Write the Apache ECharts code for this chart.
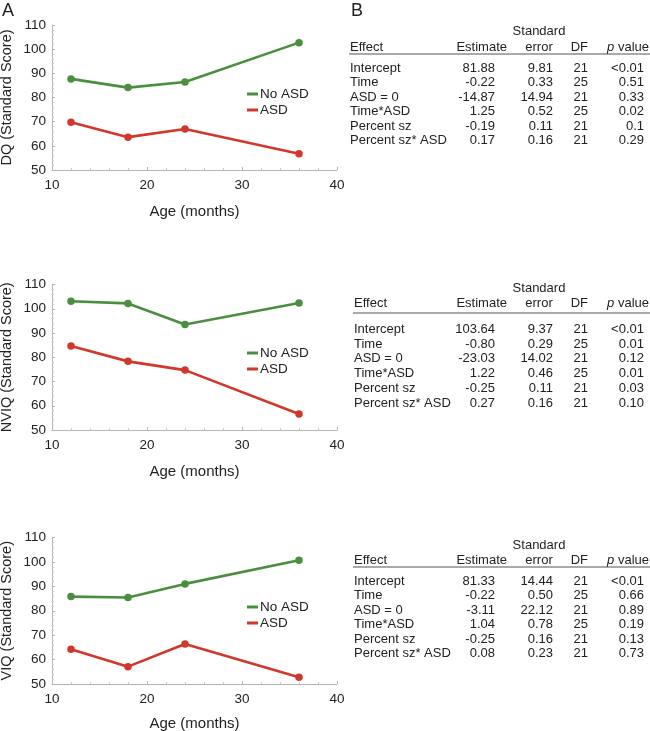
<!DOCTYPE html>
<html>
<head>
<meta charset="utf-8">
<script src="https://cdn.jsdelivr.net/npm/echarts@6/dist/echarts.min.js"></script>
<style>
html,body{margin:0;padding:0;background:#fff;}
#c{width:650px;height:731px;}
</style>
</head>
<body>
<div id="c"></div>
<script>
// ---- Data ----
const ages = [12, 18, 24, 36];
const dqNoASD = [87.7, 84.1, 86.4, 102.7];
const dqASD = [69.8, 63.6, 67.0, 56.7];
const nviqNoASD = [103.1, 102.2, 93.5, 102.4];
const nviqASD = [84.6, 78.3, 74.7, 56.6];
const viqNoASD = [85.8, 85.4, 91.0, 100.7];
const viqASD = [64.2, 57.1, 66.4, 52.8];

const yTitles = ['DQ (Standard Score)', 'NVIQ (Standard Score)', 'VIQ (Standard Score)'];
const xTitle = 'Age (months)';
const seriesNames = ['No ASD', 'ASD'];

const effects = ['Intercept', 'Time', 'ASD = 0', 'Time*ASD', 'Percent sz', 'Percent sz* ASD'];
const dqEstimate = ['81.88', '-0.22', '-14.87', '1.25', '-0.19', '0.17'];
const dqSE = ['9.81', '0.33', '14.94', '0.52', '0.11', '0.16'];
const dqDF = ['21', '25', '21', '25', '21', '21'];
const dqP = ['<0.01', '0.51', '0.33', '0.02', '0.1', '0.29'];
const nviqEstimate = ['103.64', '-0.80', '-23.03', '1.22', '-0.25', '0.27'];
const nviqSE = ['9.37', '0.29', '14.02', '0.46', '0.11', '0.16'];
const nviqDF = ['21', '25', '21', '25', '21', '21'];
const nviqP = ['<0.01', '0.01', '0.12', '0.01', '0.03', '0.10'];
const viqEstimate = ['81.33', '-0.22', '-3.11', '1.04', '-0.25', '0.08'];
const viqSE = ['14.44', '0.50', '22.12', '0.78', '0.16', '0.23'];
const viqDF = ['21', '25', '21', '25', '21', '21'];
const viqP = ['<0.01', '0.66', '0.89', '0.19', '0.13', '0.73'];

// ---- Layout ----
const FONT = "'Liberation Sans', Arial, Helvetica, sans-serif";
const TXT = '#222';
const GREEN = '#4a8f3f';
const RED = '#d2372b';
const AXC = '#b5b5b5';

const panels = [
  { top: 25, height: 145, legendTop: 82, xGap: 34, noASD: dqNoASD, asd: dqASD },
  { top: 284.5, height: 145.5, legendTop: 341, xGap: 34, noASD: nviqNoASD, asd: nviqASD },
  { top: 537.5, height: 146.5, legendTop: 595, xGap: 32, noASD: viqNoASD, asd: viqASD }
];

const tables = [
  { std: 31, hdr: 47, line: 54, rows: 68, step: 14.5, left: 350, est: dqEstimate, se: dqSE, df: dqDF, p: dqP },
  { std: 288, hdr: 303.5, line: 313, rows: 329.5, step: 14.7, left: 354, est: nviqEstimate, se: nviqSE, df: nviqDF, p: nviqP },
  { std: 545, hdr: 560.5, line: 567, rows: 581, step: 14.5, left: 354, est: viqEstimate, se: viqSE, df: viqDF, p: viqP }
];

const grid = [], xAxis = [], yAxis = [], series = [], legend = [];
panels.forEach((p, i) => {
  grid.push({ left: 52, top: p.top, width: 285, height: p.height, containLabel: false, outerBoundsMode: 'none' });
  xAxis.push({
    type: 'value', gridIndex: i, min: 10, max: 40, interval: 10,
    name: xTitle, nameLocation: 'middle', nameGap: p.xGap,
    nameTextStyle: { fontFamily: FONT, fontSize: 15, color: TXT },
    axisLine: { show: true, lineStyle: { color: AXC, width: 1 } },
    axisTick: { show: true, length: 3, inside: true, lineStyle: { color: AXC } },
    minorTick: { show: true, splitNumber: 5, length: 2, lineStyle: { color: '#ccc' } },
    axisLabel: { fontFamily: FONT, fontSize: 13.5, color: TXT, margin: 8 },
    splitLine: { show: false }
  });
  yAxis.push({
    type: 'value', gridIndex: i, min: 50, max: 110, interval: 10,
    name: yTitles[i], nameLocation: 'middle', nameGap: 38,
    nameTextStyle: { fontFamily: FONT, fontSize: 14.5, color: TXT },
    axisLine: { show: true, lineStyle: { color: AXC, width: 1 } },
    axisTick: { show: true, length: 3, inside: true, lineStyle: { color: AXC } },
    minorTick: { show: true, splitNumber: 5, length: 2, lineStyle: { color: '#ccc' } },
    axisLabel: { fontFamily: FONT, fontSize: 13.5, color: TXT, margin: 6 },
    splitLine: { show: false }
  });
  [p.noASD, p.asd].forEach((vals, k) => {
    const col = k === 0 ? GREEN : RED;
    series.push({
      type: 'line', name: seriesNames[k], xAxisIndex: i, yAxisIndex: i,
      data: ages.map((a, j) => [a, vals[j]]),
      symbol: 'circle', symbolSize: 7.5,
      lineStyle: { color: col, width: 2.6 },
      itemStyle: { color: col },
      animation: false
    });
  });
  legend.push({
    data: seriesNames, orient: 'vertical', left: 242, top: p.legendTop,
    icon: 'rect', itemWidth: 11, itemHeight: 3, itemGap: 2,
    textStyle: { fontFamily: FONT, fontSize: 13.5, color: TXT, padding: [0, 0, 0, -3] },
    selectedMode: false
  });
});

// ---- Tables as graphic text ----
const graphic = [];
function txt(x, y, s, align) {
  graphic.push({
    type: 'text', x: x, y: y,
    style: { text: s, fontFamily: FONT, fontSize: 13, fill: TXT, align: align, verticalAlign: 'middle' }
  });
}
graphic.push({ type: 'text', x: 2, y: 11, style: { text: 'A', fontFamily: FONT, fontSize: 18, fill: TXT, verticalAlign: 'middle' } });
graphic.push({ type: 'text', x: 351, y: 11, style: { text: 'B', fontFamily: FONT, fontSize: 18, fill: TXT, verticalAlign: 'middle' } });

const colEst = 495, colEstHdr = 507, colSE = 553, colSEHdr = 539, colDF = 588, colP = 644, colPHdr = 649;
tables.forEach(t => {
  txt(colSEHdr, t.std, 'Standard', 'center');
  txt(t.left, t.hdr, 'Effect', 'left');
  txt(colEstHdr, t.hdr, 'Estimate', 'right');
  txt(colSEHdr, t.hdr, 'error', 'center');
  txt(colDF, t.hdr, 'DF', 'right');
  graphic.push({
    type: 'text', x: colPHdr, y: t.hdr,
    style: {
      text: '{i|p} value', fontFamily: FONT, fontSize: 13, fill: TXT, align: 'right', verticalAlign: 'middle',
      rich: { i: { fontStyle: 'italic', fontFamily: FONT, fontSize: 13, fill: TXT } }
    }
  });
  graphic.push({ type: 'line', shape: { x1: t.left - 1, y1: t.line, x2: 650, y2: t.line }, style: { stroke: '#555', lineWidth: 1 } });
  effects.forEach((e, r) => {
    const y = t.rows + r * t.step;
    txt(t.left, y, e, 'left');
    txt(colEst, y, t.est[r], 'right');
    txt(colSE, y, t.se[r], 'right');
    txt(colDF, y, t.df[r], 'right');
    txt(colP, y, t.p[r], 'right');
  });
});

const chart = echarts.init(document.getElementById('c'), null, { renderer: 'canvas' });
chart.setOption({
  animation: false,
  backgroundColor: '#fff',
  grid: grid, xAxis: xAxis, yAxis: yAxis, series: series, legend: legend,
  graphic: graphic
});
</script>
</body>
</html>
